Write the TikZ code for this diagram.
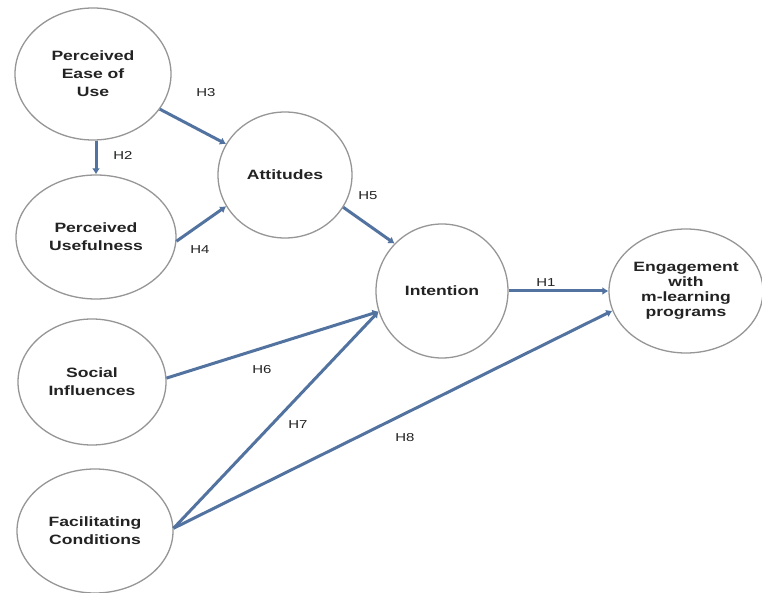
\documentclass[tikz,border=0pt]{standalone}
\usepackage{fontspec}
\setmainfont{Liberation Sans}[FakeStretch=1.3]
\usetikzlibrary{shapes.geometric,arrows.meta}
\definecolor{arrowblue}{RGB}{82,114,160}
\definecolor{rimgray}{RGB}{150,150,150}
\definecolor{txtgray}{RGB}{35,35,35}
\tikzset{
  construct/.style={ellipse, draw=rimgray, line width=1.3pt, fill=white, inner sep=0pt,
    align=center, text=txtgray, font=\fontsize{13.5}{18}\selectfont\bfseries},
  link/.style={draw=arrowblue, line width=3pt, -{Latex[length=6pt,width=8pt]}},
  hyp/.style={text=txtgray, font=\fontsize{11.5}{13}\selectfont, inner sep=1pt}
}
\begin{document}
\begin{tikzpicture}[x=1pt,y=-1pt]
\useasboundingbox (0,0) rectangle (762,593);
\fill[white] (0,0) rectangle (762,593);
\node[construct, minimum width=156pt, minimum height=132pt] (peou) at (93,74) {Perceived\\Ease of\\Use};
\node[construct, minimum width=160pt, minimum height=124pt] (pu) at (96,237) {Perceived\\Usefulness};
\node[construct, minimum width=134pt, minimum height=126pt] (att) at (285,175) {Attitudes};
\node[construct, minimum width=132pt, minimum height=134pt] (int) at (442,291) {Intention};
\node[construct, minimum width=154pt, minimum height=124pt, font=\fontsize{13.5}{15}\selectfont\bfseries] (eng) at (686,291) {Engagement\\with\\m-learning\\programs};
\node[construct, minimum width=148pt, minimum height=126pt] (soc) at (92,382) {Social\\Influences};
\node[construct, minimum width=156pt, minimum height=124pt] (fac) at (95,531) {Facilitating\\Conditions};

\draw[link] (peou) -- (att);
\draw[link] (peou.south -| pu.north) -- (pu.north);
\draw[link] (pu.-3) -- (att.208);
\draw[link] (att.-29) -- (int.135);
\draw[link] (int.east) -- (eng.west);
\draw[link] (soc.3) -- (int.198);
\draw[link] (fac.2) -- (int.198);
\draw[link] (fac.2) -- (eng.195);

\node[hyp] (h3) at (206,93) {H3};
\node[hyp] (h2) at (123,155) {H2};
\node[hyp] (h4) at (200,250) {H4};
\node[hyp] (h5) at (368,196) {H5};
\node[hyp] (h1) at (546,283) {H1};
\node[hyp] (h6) at (262,370) {H6};
\node[hyp] (h7) at (298,425) {H7};
\node[hyp] (h8) at (405,438) {H8};
\end{tikzpicture}
\end{document}
